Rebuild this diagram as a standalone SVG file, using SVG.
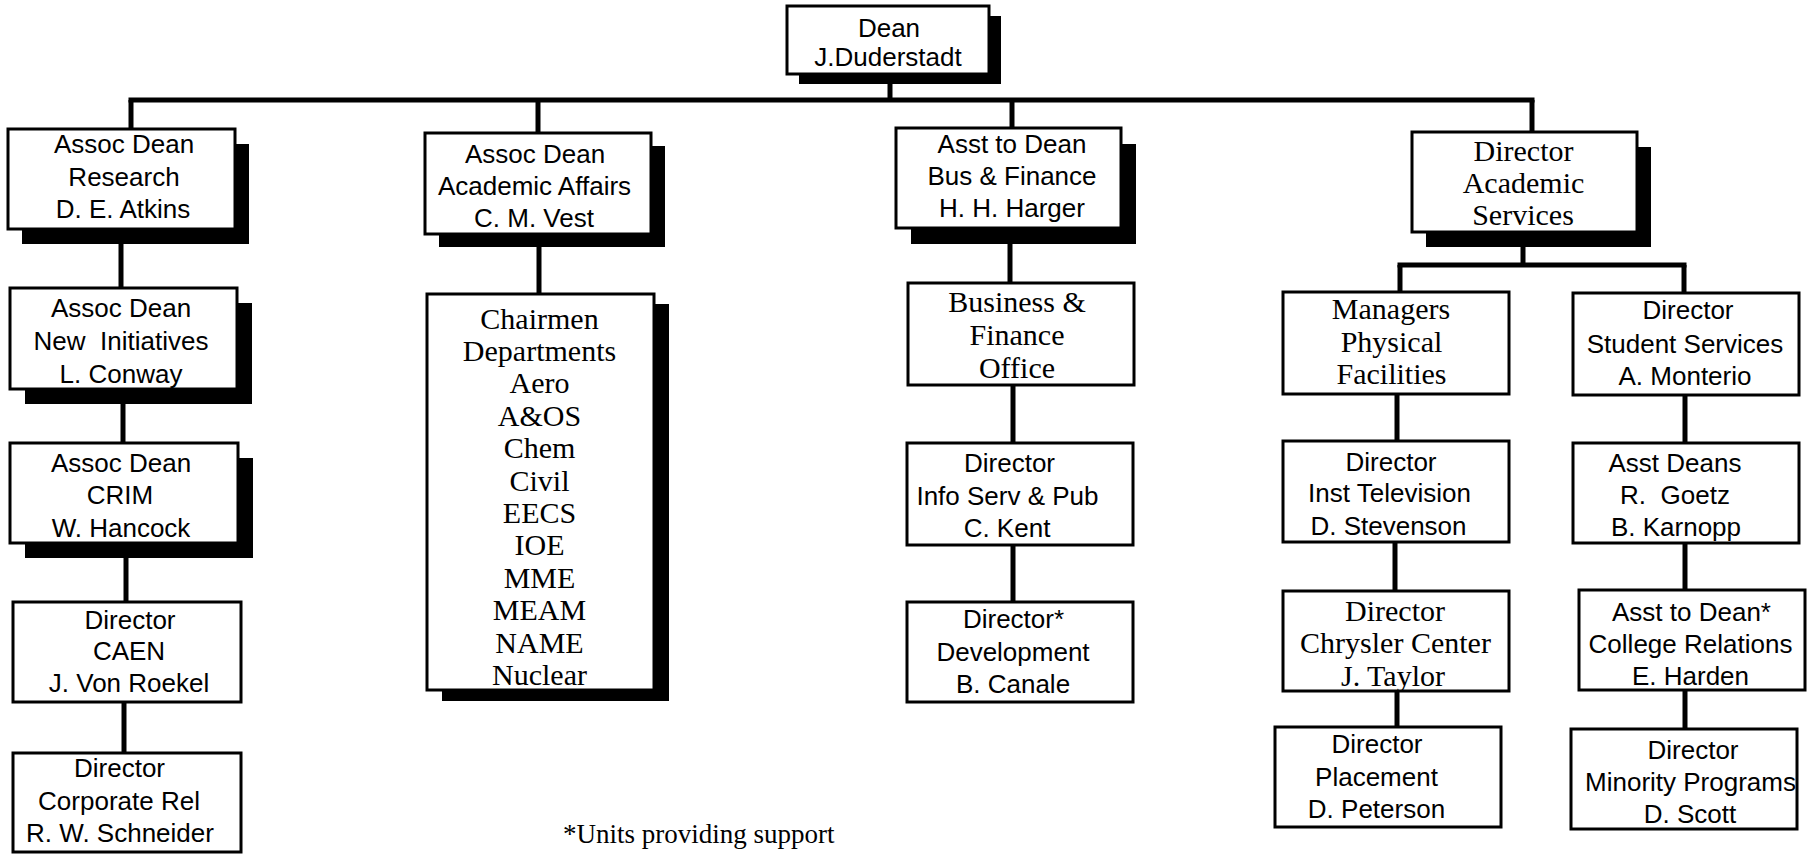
<svg xmlns="http://www.w3.org/2000/svg" width="1813" height="855" viewBox="0 0 1813 855">
  <style>
    .box { fill: #fff; stroke: #000; stroke-width: 3; }
    .shadow { fill: #000; stroke: none; }
    .wire { fill: none; stroke: #000; stroke-width: 5; stroke-linecap: butt; }
    .sans { font-family: "Liberation Sans", Arial, sans-serif; font-size: 26px; fill: #000; text-anchor: middle; }
    .serif { font-family: "Liberation Serif", "Times New Roman", serif; font-size: 30px; fill: #000; text-anchor: middle; }
    .note { font-family: "Liberation Serif", "Times New Roman", serif; font-size: 27px; fill: #000; }
  </style>

  <rect width="1813" height="855" fill="#fff"/>

  <!-- reporting lines -->
  <g id="connectors">
    <path class="wire" d="M890 74 V100"/>
    <path class="wire" d="M128.5 100 H1534.5"/>
    <path class="wire" d="M131 100 V129"/>
    <path class="wire" d="M538 100 V133"/>
    <path class="wire" d="M1012 100 V128"/>
    <path class="wire" d="M1532 100 V132"/>
    <!-- research chain -->
    <path class="wire" d="M121 229 V288"/>
    <path class="wire" d="M123 389 V443"/>
    <path class="wire" d="M126 543 V602"/>
    <path class="wire" d="M124 702 V753"/>
    <!-- academic affairs -->
    <path class="wire" d="M539 234 V294"/>
    <!-- business and finance chain -->
    <path class="wire" d="M1010 228 V283"/>
    <path class="wire" d="M1013 385 V443"/>
    <path class="wire" d="M1013 545 V602"/>
    <!-- academic services split -->
    <path class="wire" d="M1523 232 V265"/>
    <path class="wire" d="M1397.5 265 H1686.5"/>
    <path class="wire" d="M1400 265 V292"/>
    <path class="wire" d="M1684 265 V293"/>
    <path class="wire" d="M1397 394 V441"/>
    <path class="wire" d="M1395 542 V591"/>
    <path class="wire" d="M1397 691 V727"/>
    <path class="wire" d="M1685 395 V443"/>
    <path class="wire" d="M1685 543 V590"/>
    <path class="wire" d="M1685 690 V729"/>
  </g>

  <g id="dean">
    <rect class="shadow" x="799" y="16" width="202" height="68"/>
    <rect class="box" x="787" y="6" width="202" height="68"/>
    <text class="sans" x="889" y="37">Dean</text>
    <text class="sans" x="888" y="66">J.Duderstadt</text>
  </g>

  <g id="assoc-dean-research">
    <rect class="shadow" x="22" y="144" width="227" height="100"/>
    <rect class="box" x="8" y="129" width="227" height="100"/>
    <text class="sans" x="124" y="153">Assoc Dean</text>
    <text class="sans" x="124" y="185.5">Research</text>
    <text class="sans" x="123" y="218">D. E. Atkins</text>
  </g>

  <g id="assoc-dean-new-initiatives">
    <rect class="shadow" x="25" y="303" width="227" height="101"/>
    <rect class="box" x="10" y="288" width="227" height="101"/>
    <text class="sans" x="121" y="317">Assoc Dean</text>
    <text class="sans" x="121" y="350">New&#160; Initiatives</text>
    <text class="sans" x="121" y="383">L. Conway</text>
  </g>

  <g id="assoc-dean-crim">
    <rect class="shadow" x="25" y="458" width="228" height="100"/>
    <rect class="box" x="10" y="443" width="228" height="100"/>
    <text class="sans" x="121" y="472">Assoc Dean</text>
    <text class="sans" x="120" y="504">CRIM</text>
    <text class="sans" x="121" y="537">W. Hancock</text>
  </g>

  <g id="director-caen">
    <rect class="box" x="13" y="602" width="228" height="100"/>
    <text class="sans" x="130" y="628.5">Director</text>
    <text class="sans" x="129" y="660">CAEN</text>
    <text class="sans" x="129" y="692">J. Von Roekel</text>
  </g>

  <g id="director-corporate-rel">
    <rect class="box" x="13" y="753" width="228" height="99"/>
    <text class="sans" x="119.5" y="777">Director</text>
    <text class="sans" x="119" y="809.5">Corporate Rel</text>
    <text class="sans" x="120" y="841.5">R. W. Schneider</text>
  </g>

  <g id="assoc-dean-academic-affairs">
    <rect class="shadow" x="439" y="146" width="226" height="101"/>
    <rect class="box" x="425" y="133" width="226" height="101"/>
    <text class="sans" x="535" y="162.5">Assoc Dean</text>
    <text class="sans" x="534.5" y="194.5">Academic Affairs</text>
    <text class="sans" x="534" y="226.5">C. M. Vest</text>
  </g>

  <g id="chairmen-departments">
    <rect class="shadow" x="442" y="304" width="227" height="397"/>
    <rect class="box" x="427" y="294" width="227" height="396"/>
    <text class="serif" x="539.5" y="328.5">Chairmen</text>
    <text class="serif" x="539.5" y="361">Departments</text>
    <text class="serif" x="539.5" y="393.3">Aero</text>
    <text class="serif" x="539.5" y="425.7">A&amp;OS</text>
    <text class="serif" x="539.5" y="458.1">Chem</text>
    <text class="serif" x="539.5" y="490.5">Civil</text>
    <text class="serif" x="539.5" y="522.9">EECS</text>
    <text class="serif" x="539.5" y="555.3">IOE</text>
    <text class="serif" x="539.5" y="587.7">MME</text>
    <text class="serif" x="539.5" y="620.1">MEAM</text>
    <text class="serif" x="539.5" y="652.5">NAME</text>
    <text class="serif" x="539.5" y="684.9">Nuclear</text>
  </g>

  <g id="asst-to-dean-bus-finance">
    <rect class="shadow" x="911" y="144" width="225" height="100"/>
    <rect class="box" x="896" y="128" width="225" height="100"/>
    <text class="sans" x="1012" y="152.5">Asst to Dean</text>
    <text class="sans" x="1012" y="185">Bus &amp; Finance</text>
    <text class="sans" x="1012" y="216.5">H. H. Harger</text>
  </g>

  <g id="business-finance-office">
    <rect class="box" x="908" y="283" width="226" height="102"/>
    <text class="serif" x="1017" y="312">Business &amp;</text>
    <text class="serif" x="1017" y="345">Finance</text>
    <text class="serif" x="1017" y="378">Office</text>
  </g>

  <g id="director-info-serv">
    <rect class="box" x="907" y="443" width="226" height="102"/>
    <text class="sans" x="1009.5" y="472">Director</text>
    <text class="sans" x="1007.5" y="504.5">Info Serv &amp; Pub</text>
    <text class="sans" x="1007" y="537">C. Kent</text>
  </g>

  <g id="director-development">
    <rect class="box" x="907" y="602" width="226" height="100"/>
    <text class="sans" x="1013.5" y="628">Director*</text>
    <text class="sans" x="1013" y="660.5">Development</text>
    <text class="sans" x="1013" y="692.5">B. Canale</text>
  </g>

  <g id="director-academic-services">
    <rect class="shadow" x="1426" y="147" width="225" height="100"/>
    <rect class="box" x="1412" y="132" width="225" height="100"/>
    <text class="serif" x="1523.5" y="161">Director</text>
    <text class="serif" x="1523.5" y="193">Academic</text>
    <text class="serif" x="1523" y="225">Services</text>
  </g>

  <g id="managers-physical-facilities">
    <rect class="box" x="1283" y="292" width="226" height="102"/>
    <text class="serif" x="1391" y="319">Managers</text>
    <text class="serif" x="1391.5" y="351.5">Physical</text>
    <text class="serif" x="1391.5" y="383.5">Facilities</text>
  </g>

  <g id="director-inst-television">
    <rect class="box" x="1283" y="441" width="226" height="101"/>
    <text class="sans" x="1391" y="470.5">Director</text>
    <text class="sans" x="1389.5" y="502">Inst Television</text>
    <text class="sans" x="1388.5" y="535">D. Stevenson</text>
  </g>

  <g id="director-chrysler-center">
    <rect class="box" x="1283" y="591" width="226" height="100"/>
    <text class="serif" x="1395" y="621">Director</text>
    <text class="serif" x="1395.5" y="653">Chrysler Center</text>
    <text class="serif" x="1393" y="685.5">J. Taylor</text>
  </g>

  <g id="director-placement">
    <rect class="box" x="1275" y="727" width="226" height="100"/>
    <text class="sans" x="1377" y="753">Director</text>
    <text class="sans" x="1376.5" y="785.5">Placement</text>
    <text class="sans" x="1376.5" y="817.5">D. Peterson</text>
  </g>

  <g id="director-student-services">
    <rect class="box" x="1573" y="293" width="226" height="102"/>
    <text class="sans" x="1688" y="318.5">Director</text>
    <text class="sans" x="1685" y="352.5">Student Services</text>
    <text class="sans" x="1685" y="385">A. Monterio</text>
  </g>

  <g id="asst-deans">
    <rect class="box" x="1573" y="443" width="226" height="100"/>
    <text class="sans" x="1675" y="471.5">Asst Deans</text>
    <text class="sans" x="1675" y="504">R.&#160; Goetz</text>
    <text class="sans" x="1676" y="536">B. Karnopp</text>
  </g>

  <g id="asst-to-dean-college-relations">
    <rect class="box" x="1579" y="590" width="226" height="100"/>
    <text class="sans" x="1691.5" y="620.5">Asst to Dean*</text>
    <text class="sans" x="1690.5" y="652.5">College Relations</text>
    <text class="sans" x="1690.5" y="685">E. Harden</text>
  </g>

  <g id="director-minority-programs">
    <rect class="box" x="1571" y="729" width="226" height="100"/>
    <text class="sans" x="1693" y="759">Director</text>
    <text class="sans" x="1690.5" y="791">Minority Programs</text>
    <text class="sans" x="1690" y="822.5">D. Scott</text>
  </g>

  <text class="note" x="563" y="843">*Units providing support</text>
</svg>
